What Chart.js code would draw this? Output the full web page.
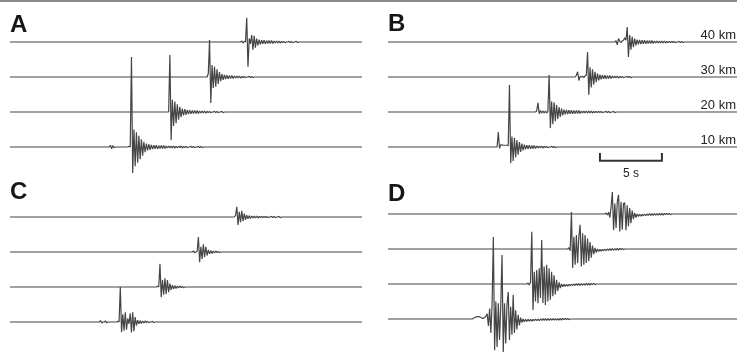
<!DOCTYPE html>
<html>
<head>
<meta charset="utf-8">
<title>Seismograms</title>
<script src="https://cdn.jsdelivr.net/npm/chart.js@4/dist/chart.umd.min.js"></script>
<style>
  html, body { margin: 0; padding: 0; background: #fff; overflow: hidden; }
  body { position: relative; width: 737px; height: 354px; font-family: "Liberation Sans", Arial, Helvetica, sans-serif; }
  .rule { position: absolute; left: 0; top: 0; width: 737px; height: 2px; background: #8a8a8a; }
  .panel { position: absolute; width: 352px; height: 182px; }
  .panel canvas { display: block; }
  .letter { position: absolute; font-size: 24px; line-height: 24px; font-weight: bold; color: #161616; }
  .dist { position: absolute; right: 1px; font-size: 13px; line-height: 13px; color: #222; white-space: nowrap; }
  .bar-label { position: absolute; width: 40px; text-align: center; font-size: 12px; line-height: 12px; color: #222; }
</style>
</head>
<body>
<div class="rule"></div>

<div class="panel" style="left:10px; top:0px;"><canvas id="panelA" width="352" height="182"></canvas></div>
<div class="panel" style="left:388px; top:0px;"><canvas id="panelB" width="352" height="182"></canvas></div>
<div class="panel" style="left:10px; top:175px;"><canvas id="panelC" width="352" height="182"></canvas></div>
<div class="panel" style="left:388px; top:172px;"><canvas id="panelD" width="352" height="182"></canvas></div>

<div class="letter" style="left:10px; top:12px;">A</div>
<div class="letter" style="left:388px; top:11px;">B</div>
<div class="letter" style="left:10px; top:179px;">C</div>
<div class="letter" style="left:388px; top:181px;">D</div>

<script>
// sampling and record window (seconds)
const sampleStep = 0.1;
const recordLength = 28.4;

// source distance of each trace, bottom trace first
const distances = [10, 20, 30, 40];

// time scale bar
const scaleBarSeconds = 5;
const scaleBarStart = 17.1;

// A: start time of each sample window and the samples (trace spacing = 1)
const startsA = [8.0, 12.8, 15.9, 18.6];
const wavesA = [
  [0, 0.05, -0.05, 0.04, -0.02, 0, 0, 0, 0, 0, 0, 0, 0, 0, 0, 0, 0.02, 0, 2.57, -0.74, 0.5, -0.55, 0.42, -0.45, 0.32, -0.35, 0.22, -0.25, 0.15, -0.15, 0.1, -0.1, 0.08, -0.08, 0.06, -0.06, 0.05, -0.05, 0.05, -0.05, 0.04, -0.04, 0.04, -0.04, 0.04, -0.04, 0.03, -0.03, 0.03, -0.03, 0.03, -0.03, 0.03, -0.03, 0.02, -0.02, 0.02, -0.02, 0.03, -0.03, 0.02, -0.02, 0.02, -0.02, 0, 0, 0.02, -0.02, 0.02, -0.02, 0, 0, 0.02, -0.02, 0.02, -0.02, 0],
  [0, 1.63, -0.8, 0.35, -0.4, 0.3, -0.32, 0.22, -0.22, 0.15, -0.15, 0.1, -0.1, 0.08, -0.08, 0.06, -0.06, 0.05, -0.05, 0.04, -0.04, 0.04, -0.04, 0.04, -0.04, 0.03, -0.03, 0.03, -0.03, 0.03, -0.03, 0.02, -0.02, 0.02, -0.02, 0, 0, 0.02, -0.02, 0.02, -0.02, 0, 0, 0.02, -0.02, 0],
  [0, 0.1, 1.06, -0.74, 0.34, -0.31, 0.3, -0.28, 0.22, -0.2, 0.14, -0.12, 0.08, -0.08, 0.06, -0.06, 0.05, -0.05, 0.04, -0.04, 0.04, -0.04, 0.03, -0.03, 0.03, -0.03, 0.03, -0.03, 0.02, -0.02, 0.02, -0.02, 0, 0, 0.02, -0.02, 0.02, -0.02, 0],
  [0, 0.03, -0.03, 0.02, 0, 0.69, -0.71, 0.1, -0.05, 0.2, -0.22, 0.18, -0.16, 0.1, -0.1, 0.07, -0.07, 0.05, -0.05, 0.05, -0.05, 0.04, -0.04, 0.04, -0.04, 0.04, -0.04, 0.03, -0.03, 0.03, -0.03, 0.03, -0.03, 0.02, -0.02, 0.02, -0.02, 0, 0, 0.02, -0.02, 0.02, -0.02, 0, 0, 0.02, -0.02, 0]
];

// B
const startsB = [8.8, 11.9, 15.1, 18.3];
const wavesB = [
  [0, 0.43, -0.04, 0.06, 0.06, 0.05, 0.05, 0.05, 0.05, 0.04, 1.77, -0.46, 0.3, -0.4, 0.26, -0.3, 0.2, -0.22, 0.14, -0.14, 0.1, -0.1, 0.07, -0.07, 0.05, -0.05, 0.05, -0.05, 0.04, -0.04, 0.04, -0.04, 0.03, -0.03, 0.03, -0.03, 0.03, -0.03, 0.02, -0.02, 0.02, -0.02, 0, 0, 0.02, -0.02, 0.02, -0.02, 0],
  [0, 0.03, 0.26, -0.05, 0.04, -0.03, 0.03, -0.03, 0.03, -0.03, 0.02, 1.06, -0.46, 0.3, -0.35, 0.28, -0.26, 0.2, -0.2, 0.14, -0.14, 0.1, -0.1, 0.07, -0.07, 0.06, -0.06, 0.05, -0.05, 0.05, -0.05, 0.04, -0.04, 0.04, -0.04, 0.04, -0.04, 0.03, -0.03, 0.03, -0.03, 0.03, -0.03, 0.03, -0.03, 0.03, -0.03, 0.02, -0.02, 0.02, -0.02, 0.02, -0.02, 0.02, -0.02, 0, 0, 0.02, -0.02, 0.02, -0.02, 0, 0, 0.02, -0.02, 0],
  [0, 0.05, 0.15, -0.1, 0.02, 0, 0.02, -0.02, 0.03, 0.05, 0.71, -0.51, 0.28, -0.3, 0.22, -0.22, 0.15, -0.15, 0.1, -0.1, 0.07, -0.07, 0.05, -0.05, 0.05, -0.05, 0.04, -0.04, 0.04, -0.04, 0.03, -0.03, 0.03, -0.03, 0.03, -0.03, 0.02, -0.02, 0.02, -0.02, 0, 0, 0.02, -0.02, 0.02, -0.02, 0],
  [0, 0.04, -0.08, 0.1, 0.02, -0.02, 0.03, 0.05, 0.12, 0.05, 0.43, -0.43, 0.2, -0.22, 0.15, -0.15, 0.1, -0.1, 0.07, -0.07, 0.06, -0.06, 0.05, -0.05, 0.05, -0.05, 0.04, -0.04, 0.04, -0.04, 0.04, -0.04, 0.03, -0.03, 0.03, -0.03, 0.03, -0.03, 0.03, -0.03, 0.03, -0.03, 0.02, -0.02, 0.02, -0.02, 0.02, -0.02, 0.02, -0.02, 0, 0, 0.02, -0.02, 0.02, -0.02, 0]
];

// C
const startsC = [7.2, 11.8, 14.7, 18.1];
const wavesC = [
  [0, 0.04, -0.03, 0, 0, 0.03, -0.02, 0, 0, 0, 0, 0, 0, 0, 0, 0.02, 0, 1.0, -0.29, 0.22, -0.25, 0.28, -0.22, 0.1, -0.05, 0.25, -0.3, 0.28, -0.26, 0.14, -0.1, 0.05, -0.05, 0.04, -0.04, 0.03, -0.03, 0.03, -0.02, 0.02, -0.02, 0, 0, 0.02, -0.02, 0],
  [0, 0.02, 0, 0.66, -0.29, 0.2, -0.22, 0.25, -0.2, 0.2, -0.15, 0.1, -0.08, 0.05, -0.05, 0.04, -0.04, 0.03, -0.03, 0.03, -0.02, 0.02, -0.02, 0],
  [0, 0.03, -0.02, 0, 0.02, 0.43, -0.29, 0.15, -0.2, 0.22, -0.15, 0.15, -0.1, 0.06, -0.05, 0.04, -0.04, 0.03, -0.03, 0.03, -0.02, 0.02, -0.02, 0],
  [0, 0.05, 0.29, -0.23, 0.15, -0.15, 0.18, -0.12, 0.1, -0.08, 0.05, -0.05, 0.04, -0.04, 0.03, -0.03, 0.03, -0.03, 0.03, -0.03, 0.02, -0.02, 0.02, -0.02, 0.02, -0.02, 0.02, -0.02, 0, 0, 0.02, -0.02, 0.02, -0.02, 0, 0, 0.02, -0.02, 0]
];

// D
const startsD = [6.8, 11.2, 14.5, 17.5];
const wavesD = [
  [0, 0.02, 0.04, 0.06, 0.07, 0.07, 0.06, 0.04, 0.02, 0.02, 0.04, 0.08, 0.15, -0.2, 0.3, -0.4, 0.45, 2.34, -0.89, 0.5, -0.8, 0.45, -0.6, 0.4, 1.83, -0.94, 0.45, -0.7, 0.4, 0.77, -0.6, 0.35, -0.45, 0.69, -0.4, 0.25, -0.3, 0.12, -0.18, 0.04, -0.1, 0, -0.08, -0.01, -0.07, -0.01, -0.06, -0.01, -0.06, -0.01, -0.05, 0, -0.05, 0, -0.05, 0, -0.04, 0.01, -0.04, 0.01, -0.04, 0.01, -0.04, 0.01, -0.03, 0.01, -0.03, 0.01, -0.03, 0.01, -0.03, 0.02, -0.03, 0.02, -0.02, 0.02, -0.02, 0.02, -0.02, 0],
  [0, 0.03, -0.03, 0.05, 1.49, -0.74, 0.35, -0.5, 0.4, -0.55, 0.45, -0.4, 1.26, -0.54, 0.5, -0.6, 0.55, -0.5, 0.45, -0.45, 0.35, -0.35, 0.25, -0.3, 0.12, -0.2, 0.05, -0.12, 0, -0.08, -0.01, -0.07, -0.01, -0.06, -0.01, -0.05, 0, -0.05, 0, -0.04, 0.01, -0.04, 0.01, -0.04, 0.01, -0.03, 0.01, -0.03, 0.02, -0.03, 0.02, -0.03, 0.02, -0.02, 0.02, -0.02, 0],
  [0, 0.04, -0.05, 1.06, -0.54, 0.35, -0.45, 0.4, -0.4, 0.35, 0.69, -0.5, 0.45, -0.45, 0.4, -0.4, 0.3, -0.35, 0.2, -0.25, 0.1, -0.15, 0.03, -0.1, 0, -0.07, -0.01, -0.06, -0.01, -0.05, 0, -0.05, 0, -0.04, 0.01, -0.04, 0.01, -0.03, 0.01, -0.03, 0.02, -0.03, 0.02, -0.02, 0.02, -0.02, 0],
  [0, 0.03, -0.03, 0.05, -0.1, 0.2, 0.63, -0.46, 0.3, -0.4, 0.35, 0.55, -0.5, 0.35, -0.45, 0.3, 0.32, -0.46, 0.25, -0.35, 0.17, -0.26, 0.1, -0.15, 0.03, -0.1, 0, -0.07, -0.01, -0.06, -0.01, -0.05, 0, -0.05, 0, -0.04, 0.01, -0.04, 0.01, -0.04, 0.01, -0.03, 0.01, -0.03, 0.02, -0.03, 0.02, -0.03, 0.02, -0.02, 0.02, -0.02, 0.02, -0.02, 0]
];

document.addEventListener('DOMContentLoaded', () => {
  drawPanel('panelA', startsA, wavesA);
  const chartB = drawPanel('panelB', startsB, wavesB, true);
  drawPanel('panelC', startsC, wavesC);
  drawPanel('panelD', startsD, wavesD);
  addDistanceLabels(chartB);
});

// one trace: flat line over the whole record with the samples laid in at their times
function traceData(offset, start, wave) {
  const pts = [{ x: 0, y: offset }];
  wave.forEach((v, i) => pts.push({ x: start + i * sampleStep, y: offset + v }));
  pts.push({ x: recordLength, y: offset });
  return pts;
}

function drawPanel(id, starts, waves, withScaleBar) {
  const datasets = waves.map((wave, k) => ({
    data: traceData(k, starts[k], wave),
    showLine: true,
    borderColor: '#454545',
    borderWidth: 1.2,
    borderJoinStyle: 'bevel',
    pointRadius: 0,
    tension: 0,
    clip: false
  }));

  if (withScaleBar) {
    const x0 = scaleBarStart, x1 = scaleBarStart + scaleBarSeconds;
    datasets.push({
      data: [{ x: x0, y: -0.17 }, { x: x0, y: -0.39 }, { x: x1, y: -0.39 }, { x: x1, y: -0.17 }],
      showLine: true,
      borderColor: '#333',
      borderWidth: 2,
      borderJoinStyle: 'miter',
      pointRadius: 0,
      tension: 0,
      clip: false
    });
  }

  const ctx = document.getElementById(id).getContext('2d');
  return new Chart(ctx, {
    type: 'scatter',
    data: { datasets },
    options: {
      responsive: false,
      animation: false,
      events: [],
      layout: { padding: 0 },
      plugins: { legend: { display: false }, tooltip: { enabled: false }, title: { display: false } },
      scales: {
        x: { type: 'linear', display: false, min: 0, max: recordLength },
        y: { type: 'linear', display: false, min: -1, max: 4.2 }
      }
    }
  });
}

// distance labels on B sit just above their traces; the bar label sits under the bar
function addDistanceLabels(chart) {
  const panel = chart.canvas.parentNode;
  const top = panel.offsetTop, left = panel.offsetLeft;
  distances.forEach((d, k) => {
    const label = document.createElement('div');
    label.className = 'dist';
    label.textContent = `${d} km`;
    label.style.top = (top + chart.scales.y.getPixelForValue(k) - 14) + 'px';
    document.body.appendChild(label);
  });

  const barLabel = document.createElement('div');
  barLabel.className = 'bar-label';
  barLabel.textContent = `${scaleBarSeconds} s`;
  barLabel.style.left = (left + chart.scales.x.getPixelForValue(scaleBarStart + scaleBarSeconds / 2) - 20) + 'px';
  barLabel.style.top = (top + chart.scales.y.getPixelForValue(-0.39) + 6.5) + 'px';
  document.body.appendChild(barLabel);
}
</script>
</body>
</html>
